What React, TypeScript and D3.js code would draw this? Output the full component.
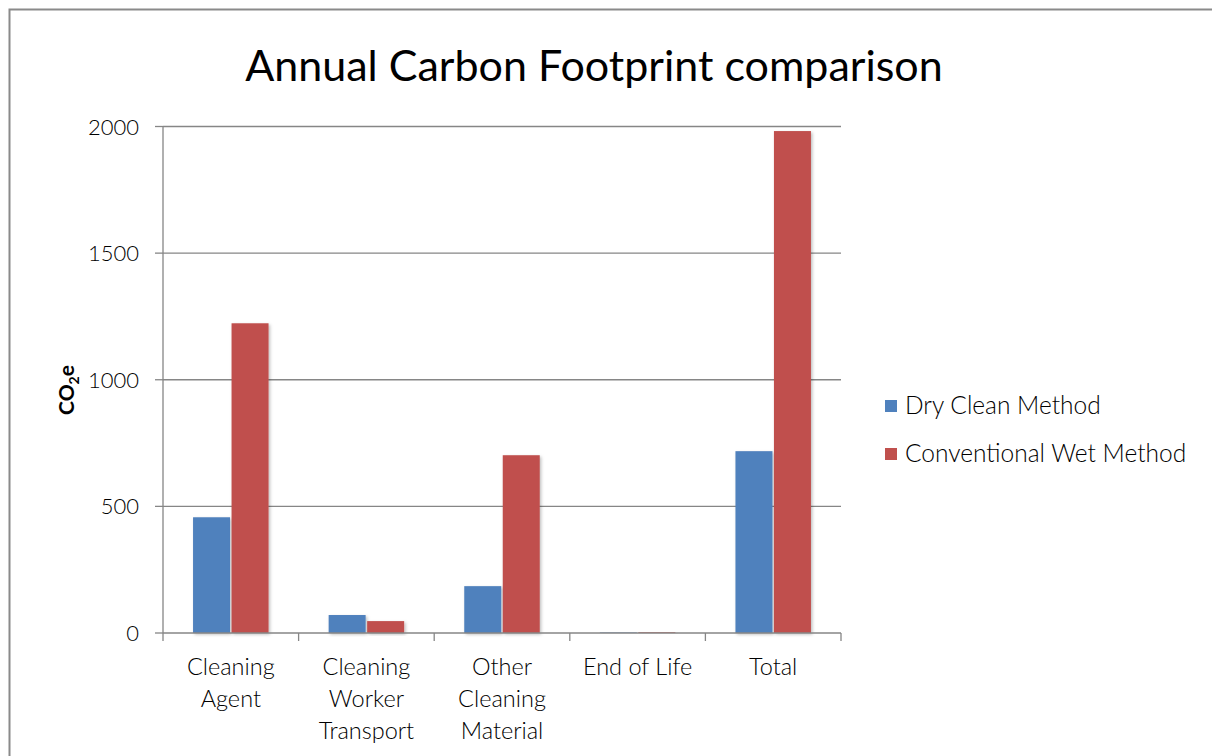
import React from "react";
import * as d3 from "d3";

const categories = [
  ["Cleaning", "Agent"],
  ["Cleaning", "Worker", "Transport"],
  ["Other", "Cleaning", "Material"],
  ["End of Life"],
  ["Total"],
];
const seriesNames = ["Dry Clean Method", "Conventional Wet Method"];
const dryClean = [457, 71, 185, 2, 718];
const wetMethod = [1223, 47, 702, 3, 1982];
const yTicks = [0, 500, 1000, 1500, 2000];
const colors = ["#4F81BD", "#C0504D"];

export default function App() {
  const W = 1212, H = 756;
  const left = 163, right = 841, top = 126.5, bottom = 633;
  const font = "Lato, 'Open Sans', sans-serif";
  const x = d3.scaleBand<number>().domain(d3.range(categories.length)).range([left, right]).paddingInner(0).paddingOuter(0);
  const y = d3.scaleLinear().domain([0, 2000]).range([bottom, top]);
  const bw = x.bandwidth();
  const barW = 37;
  const gap = 1.5;
  const series = [dryClean, wetMethod];
  return (
    <svg width={W} height={H} style={{ position: "absolute", left: 0, top: 0 }}>
      <defs>
        <filter id="sh" x="-20%" y="-20%" width="140%" height="140%">
          <feDropShadow dx="1.5" dy="1.5" stdDeviation="1.5" floodColor="#000" floodOpacity="0.25" />
        </filter>
      </defs>
      <rect x={0} y={0} width={W} height={H} fill="#fff" />
      <path d={`M9.5,${H + 5} V9.5 H${W + 5}`} fill="none" stroke="#8a8a8a" strokeWidth={2} />
      <text x={594} y={81} textAnchor="middle" fontFamily={font} fontWeight={400} fontSize={43} fill="#000">
        Annual Carbon Footprint comparison
      </text>
      {yTicks.map((t) => (
        <g key={t}>
          {t > 0 && <line x1={left} x2={right} y1={y(t)} y2={y(t)} stroke="#868686" strokeWidth={1.3} />}
          <line x1={left - 8} x2={left} y1={y(t)} y2={y(t)} stroke="#868686" strokeWidth={1.3} />
          <text x={139} y={y(t) + 8} textAnchor="end" fontFamily={font} fontWeight={300} fontSize={22} fill="#000">
            {t}
          </text>
        </g>
      ))}
      {series.map((vals, si) =>
        vals.map((v, ci) => {
          const cx = (x(ci) as number) + bw / 2;
          const bx = si === 0 ? cx - gap / 2 - barW : cx + gap / 2;
          return (
            <rect
              key={`${si}-${ci}`}
              x={bx}
              y={y(v)}
              width={barW}
              height={y(0) - y(v)}
              fill={colors[si]}
              filter="url(#sh)"
            />
          );
        })
      )}
      <line x1={left} x2={left} y1={top} y2={bottom} stroke="#868686" strokeWidth={1.3} />
      <line x1={left} x2={right} y1={bottom} y2={bottom} stroke="#868686" strokeWidth={1.3} />
      {d3.range(categories.length + 1).map((i) => {
        const xx = left + i * bw;
        return <line key={i} x1={xx} x2={xx} y1={bottom} y2={bottom + 8} stroke="#868686" strokeWidth={1.3} />;
      })}
      {categories.map((lines, ci) => {
        const cx = (x(ci) as number) + bw / 2;
        return (
          <text key={ci} textAnchor="middle" fontFamily={font} fontWeight={300} fontSize={23.5} fill="#000">
            {lines.map((l, li) => (
              <tspan key={li} x={cx} y={675 + li * 32}>
                {l}
              </tspan>
            ))}
          </text>
        );
      })}
      <text transform={`translate(74,${390}) rotate(-90)`} textAnchor="middle" fontFamily={font} fontSize={21} fontWeight="bold" fill="#000">
        CO<tspan fontSize={14} dy={5}>2</tspan><tspan dy={-5}>e</tspan>
      </text>
      {seriesNames.map((n, i) => (
        <g key={n}>
          <rect x={885} y={400 + i * 48} width={12} height={12} fill={colors[i]} />
          <text x={905} y={414 + i * 48} fontFamily={font} fontWeight={300} fontSize={24.5} fill="#000">
            {n}
          </text>
        </g>
      ))}
    </svg>
  );
}
